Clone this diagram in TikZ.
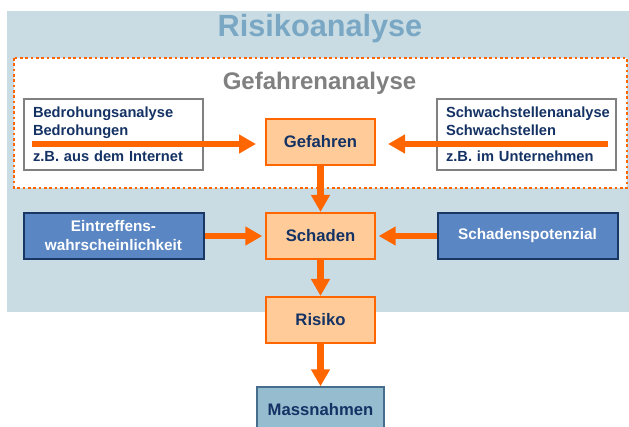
\documentclass[tikz,border=0pt]{standalone}
\usepackage{fontspec}
\setmainfont{Liberation Sans}
\usepackage{xcolor}
\usepackage{tikz}
\usetikzlibrary{arrows.meta, positioning, calc}
\definecolor{bgblue}{RGB}{201, 220, 228}
\definecolor{titleblue}{RGB}{122, 168, 196}
\definecolor{riskorange}{RGB}{255, 102, 0}
\definecolor{peach}{RGB}{255, 204, 153}
\definecolor{navy}{RGB}{20, 50, 100}
\definecolor{midblue}{RGB}{90, 134, 195}
\definecolor{darknavy}{RGB}{25, 55, 100}
\definecolor{grayblue}{RGB}{150, 188, 208}
\definecolor{graybluedark}{RGB}{70, 110, 140}
\tikzstyle{process} = [
    rectangle, 
    minimum width=81.75pt, 
    minimum height=34.5pt, 
    text centered, 
    line width=1.5pt,
    draw=riskorange, 
    fill=peach,
    text=navy,
    font=\fontsize{12.5}{15}\selectfont\bfseries
]
\tikzstyle{factor} = [
    rectangle, 
    minimum width=135pt, 
    minimum height=34.5pt, 
    align=center, 
    line width=1.5pt,
    draw=darknavy, 
    fill=midblue,
    text=white,
    font=\fontsize{11.5}{14.25}\selectfont\bfseries
]
\tikzstyle{source} = [
    rectangle, 
    text width=120.75pt,
    inner xsep=6.75pt,
    minimum height=53.25pt, 
    align=left, 
    line width=1.5pt,
    draw=gray, 
    fill=white,
    text=navy,
    font=\fontsize{11}{13.5}\selectfont\bfseries
]
\tikzstyle{measure} = [
    rectangle, 
    minimum width=95.25pt, 
    minimum height=34.5pt, 
    text centered, 
    line width=1pt,
    draw=graybluedark, 
    fill=grayblue,
    text=navy,
    font=\fontsize{12.5}{15}\selectfont\bfseries
]
\tikzstyle{arrow} = [
    line width=4.8pt, 
    -{Triangle[length=12.75pt, width=13.5pt]}, 
    color=riskorange
]

\begin{document}
\begin{tikzpicture}[x=0.75pt, y=-0.75pt]
        \useasboundingbox (0,0) rectangle (629,427);
        % Frames
        \fill[bgblue] (7,11) rectangle (629,312);
        \draw[riskorange, line width=1.9pt, dash pattern=on 2pt off 2pt, fill=white] (14,58) rectangle (627,188);
        \node[font=\fontsize{23}{27}\selectfont\bfseries, text=titleblue] (title) at (320,29) {Risikoanalyse};
        \node[font=\fontsize{18}{21}\selectfont\bfseries, text=gray] (gefahrenanalyse) at (319.5,83) {Gefahrenanalyse};
        
        % Process
        \node[source] (bedrohung) at (113.5,134.5) {Bedrohungsanalyse\\Bedrohungen\\[6pt]z.B. aus dem Internet};
        \node[source] (schwachstellen) at (526.5,134.5) {Schwachstellenanalyse\\Schwachstellen\\[6pt]z.B. im Unternehmen};
        \node[process] (gefahren) at (320.5,142) {Gefahren};
        \node[process] (schaden) at (320.5,236) {Schaden};
        \node[process] (risiko) at (320.5,320) {Risiko};
        \node[factor] (eintreffen) at (113.5,236) {Eintreffens-\\wahrscheinlichkeit};
        \node[factor] (potenzial) at (527.5,236) {Schadenspotenzial};
        \node[measure] (massnahmen) at (320.5,410) {Massnahmen};
        \coordinate (bstart) at ($(bedrohung.west)+(9,9.5)$);
        \coordinate (sstart) at ($(schwachstellen.east)+(-9,9.5)$);
        
        % Arrows
        \draw[arrow, shorten >=6.75pt] (bstart) -- (bstart -| gefahren.west);
        \draw[arrow, shorten >=9pt] (sstart) -- (sstart -| gefahren.east);
        \draw[arrow] (gefahren) -- (schaden);
        \draw[arrow, shorten >=2pt] (eintreffen) -- (schaden);
        \draw[arrow, shorten >=2pt] (potenzial) -- (schaden);
        \draw[arrow] (schaden) -- (risiko);
        \draw[arrow] (risiko) -- (massnahmen);
    \end{tikzpicture}
\end{document}
